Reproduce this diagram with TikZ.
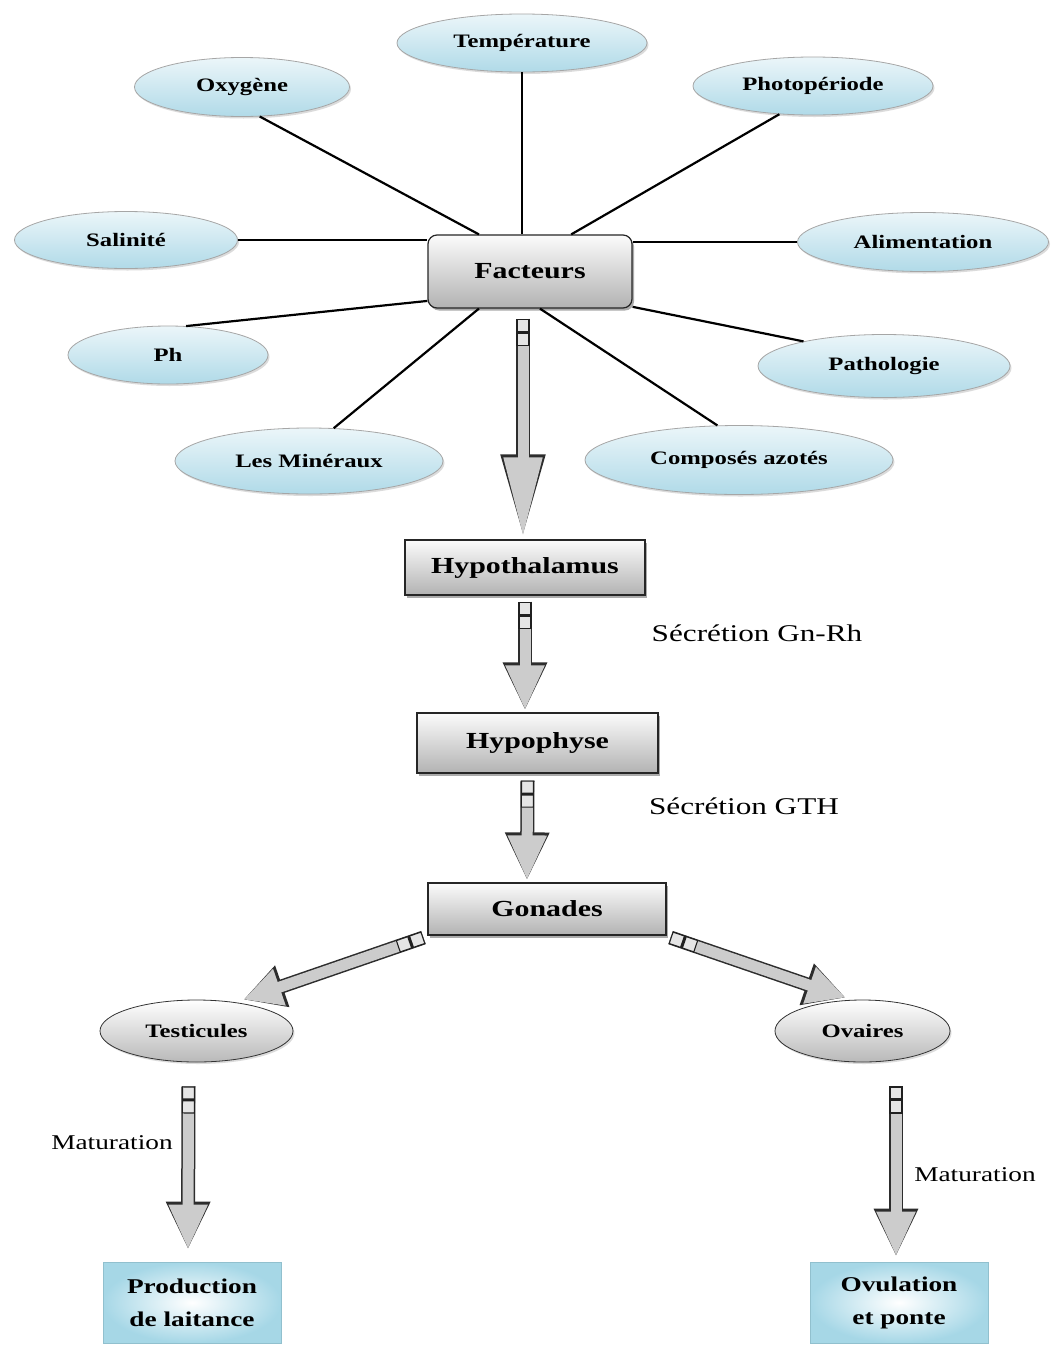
\documentclass[tikz,border=0pt]{standalone}
\usepackage{fontspec}
\setmainfont[FakeStretch=1.3]{Liberation Serif}
\usetikzlibrary{shapes.geometric,arrows.meta,shadows,calc}
\definecolor{ellblue}{RGB}{176,218,232}
\definecolor{boxblue}{RGB}{150,208,226}
\newcommand\myfs[2]{\fontsize{#1}{#2}\selectfont}
\tikzset{
  ell/.style={ellipse, inner sep=0pt, draw=gray!70, line width=0.8pt,
    top color=ellblue!25, bottom color=ellblue,
    font=\bfseries\myfs{19}{22},
    drop shadow={shadow xshift=1.5pt, shadow yshift=-2pt, fill=gray!55}},
  gell/.style={ell, draw=gray!40!black, top color=white, bottom color=gray!55},
  gbox/.style={rectangle, inner sep=0pt, draw=gray!30!black, line width=1.2pt,
    top color=gray!3, bottom color=gray!60, font=\bfseries\myfs{23}{26},
    drop shadow={shadow xshift=2pt, shadow yshift=-2.5pt, fill=gray!70!black}},
  bbox/.style={rectangle, inner sep=0pt, draw=boxblue!80!gray, line width=0.8pt,
    inner color=white, outer color=boxblue!85, align=center,
    font=\bfseries\myfs{21}{33}},
  conn/.style={line width=2.2pt, black},
  grip/.style={rectangle, inner sep=0pt, minimum width=26pt, minimum height=12pt,
    draw=gray!25!black, line width=1.1pt, fill=gray!20, sloped, allow upside down,
    path picture={\draw[arrows=-, line width=3pt, gray!25!black]
      (0pt,-8pt) -- (0pt,8pt);}},
  bigarrow/.style={line width=11pt, draw=gray!40,
    -{Triangle[length=#1, width=36pt]},
    preaction={draw=gray!35!black, line width=14pt, -{Triangle[length=#1+3pt, width=41pt]}}},
  bigarrow/.default=45pt,
  lab/.style={font=\myfs{24}{26}},
  mlab/.style={font=\myfs{21}{24}}
}
\begin{document}
\begin{tikzpicture}[x=1pt, y=-1pt]
\fill[white] (0,0) rectangle (1051,1347);
\useasboundingbox (0,0) rectangle (1051,1347);

% factors
\node[ell, minimum width=250pt, minimum height=58pt] (temp) at (522,43) {Température};
\node[ell, minimum width=215pt, minimum height=59pt] (oxy) at (242,87) {Oxygène};
\node[ell, minimum width=240pt, minimum height=58pt] (photo) at (813,86) {Photopériode};
\node[ell, minimum width=223pt, minimum height=57pt] (sal) at (126,240) {Salinité};
\node[ell, minimum width=251pt, minimum height=59pt] (ali) at (923,242) {Alimentation};
\node[ell, minimum width=200pt, minimum height=58pt] (ph) at (168,355) {Ph};
\node[ell, minimum width=252pt, minimum height=63pt] (patho) at (884,366) {Pathologie};
\node[ell, minimum width=268pt, minimum height=66pt] (min) at (309,461) {Les Minéraux};
\node[ell, minimum width=308pt, minimum height=69pt] (azo) at (739,460) {Composés azotés};

\node[gbox, rounded corners=9pt, minimum width=204pt, minimum height=73pt] (fact) at (530,271.5) {Facteurs};

% connectors
\draw[conn] (oxy.-59) -- (fact.144);
\draw[conn] (temp.south) -- (temp.south |- fact.north);
\draw[conn] (photo.-140) -- (fact.42);
\draw[conn] (sal.east) -- (sal.east -| fact.west);
\draw[conn] (ali.west) -- (ali.west -| fact.east);
\draw[conn] (ph.58) -- (fact.-164);
\draw[conn] (patho.163) -- (fact.-19);
\draw[conn] (min.53) -- (fact.-144);
\draw[conn] (azo.122) -- (fact.-75);

% chain
\node[gbox, minimum width=240pt, minimum height=55pt] (hypo) at (525,567.5) {Hypothalamus};
\node[gbox, minimum width=241pt, minimum height=60pt] (hypoph) at (537.5,743) {Hypophyse};
\node[gbox, minimum width=238pt, minimum height=52pt] (gon) at (547,909) {Gonades};
\node[gell, minimum width=193pt, minimum height=62pt] (test) at (196.5,1031) {Testicules};
\node[gell, minimum width=175pt, minimum height=62pt] (ova) at (862.5,1031) {Ovaires};
\node[bbox, minimum width=178pt, minimum height=81pt] (prod) at (192,1302.5) {Production\\de laitance};
\node[bbox, minimum width=178pt, minimum height=81pt] (ovul) at (899,1302.5) {Ovulation\\et ponte};

\draw[bigarrow=80pt] ([xshift=-7pt,yshift=-10pt]fact.south) -- node[grip, pos=0, anchor=west] {} ([xshift=-2pt,yshift=2pt]hypo.north);
\draw[bigarrow] ([yshift=-6pt]hypo.south) -- node[grip, pos=0, anchor=west] {} ([yshift=2pt]hypo.south |- hypoph.north);
\draw[bigarrow] ([xshift=-10pt,yshift=-7pt]hypoph.south) -- node[grip, pos=0, anchor=west] {} ([xshift=-20pt,yshift=2pt]gon.north);
\draw[bigarrow=38pt] ([xshift=-4pt,yshift=-2pt]gon.south west) -- node[grip, pos=0, anchor=west] {} ([xshift=47pt]test.north);
\draw[bigarrow=38pt] ([xshift=4pt,yshift=-2pt]gon.south east) -- node[grip, pos=0, anchor=west] {} ([xshift=-17pt,yshift=2pt]ova.north);
\draw[bigarrow] ([xshift=-8pt,yshift=-24pt]test.south) -- node[grip, pos=0, anchor=west] {} ([xshift=-4pt,yshift=12pt]prod.north);
\draw[bigarrow] ([xshift=33.5pt,yshift=-24pt]ova.south) -- node[grip, pos=0, anchor=west] {} ([xshift=-3pt,yshift=5pt]ovul.north);

% labels
\node[lab] (l1) at (757,633) {Sécrétion Gn-Rh};
\node[lab] (l2) at (744,806) {Sécrétion GTH};
\node[mlab] (l3) at (112,1143) {Maturation};
\node[mlab] (l4) at (975,1175) {Maturation};
\end{tikzpicture}
\end{document}
